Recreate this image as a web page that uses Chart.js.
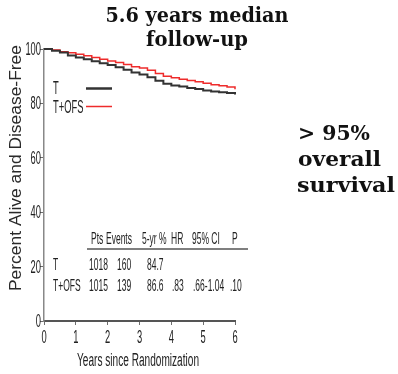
<!DOCTYPE html>
<html>
<head>
<meta charset="utf-8">
<script src="https://cdn.jsdelivr.net/npm/chart.js@4/dist/chart.umd.min.js"></script>
<style>
  html, body { margin: 0; padding: 0; background: #ffffff; }
  #wrap { width: 398px; height: 374px; }
</style>
</head>
<body>
<div id="wrap"><canvas id="km" width="398" height="374"></canvas></div>
<script>
// Kaplan-Meier disease-free survival, years since randomization
const years = [0, 0.25, 0.5, 0.75, 1, 1.25, 1.5, 1.75, 2, 2.25, 2.5, 2.75, 3,
               3.25, 3.5, 3.75, 4, 4.25, 4.5, 4.75, 5, 5.25, 5.5, 5.75, 6];
const survivalT = [100, 99.4, 98.7, 97.6, 96.9, 96.2, 95.5, 94.8, 94.1, 93.3, 92.4, 91.4, 90.6,
                   89.6, 88.3, 87.2, 86.6, 86.2, 85.7, 85.3, 84.7, 84.4, 84.1, 83.8, 83.3];
const survivalTOFS = [100, 99.6, 99.0, 98.6, 98.1, 97.5, 96.9, 96.2, 95.6, 95.0, 94.3, 93.5, 93.0,
                      92.2, 91.0, 90.0, 89.4, 88.9, 88.4, 88.0, 87.4, 86.9, 86.5, 86.0, 85.2];

const seriesNames = ['T', 'T+OFS'];
const xTicks = [0, 1, 2, 3, 4, 5, 6];
const yTicks = [0, 20, 40, 60, 80, 100];

const titleLines = ['5.6 years median', 'follow-up'];
const sideNote = ['> 95%', 'overall', 'survival'];
const xTitle = 'Years since Randomization';
const yTitle = 'Percent Alive and Disease-Free';

// summary table
const tableHeader = ['Pts', 'Events', '5-yr %', 'HR', '95% CI', 'P'];
const tableRowT = ['T', '1018', '160', '84.7'];
const tableRowTOFS = ['T+OFS', '1015', '139', '86.6', '.83', '.66-1.04', '.10'];

const BLACK = '#333333';
const RED = '#ee2b2b';
const AXIS = '#6e6e6e';

function toPoints(values) {
  return years.map((x, i) => ({ x: x, y: values[i] }));
}

// draws text squeezed horizontally by factor sx
function drawNarrow(ctx, text, x, y, font, sx, align) {
  ctx.save();
  ctx.font = font;
  ctx.textAlign = align || 'left';
  ctx.translate(x, y);
  ctx.scale(sx, 1);
  ctx.fillText(text, 0, 0);
  ctx.restore();
}

// draws text stretched/squeezed to an exact width
function drawFit(ctx, text, x, y, font, width, align) {
  ctx.save();
  ctx.font = font;
  const w = ctx.measureText(text).width;
  drawNarrow(ctx, text, x, y, font, width / w, align);
  ctx.restore();
}

const NARROW = '18px "Liberation Sans", Arial, sans-serif';
const NARROW_SX = 0.52;
const TABLE = '17px "Liberation Sans", Arial, sans-serif';
const TABLE_SX = 0.5;

const annotations = {
  id: 'annotations',
  afterDraw(chart) {
    const ctx = chart.ctx;
    const xs = chart.scales.x;
    const ys = chart.scales.y;
    ctx.save();
    ctx.fillStyle = '#222222';

    // tick labels
    ctx.textBaseline = 'middle';
    yTicks.forEach(v => {
      drawNarrow(ctx, String(v), 41, ys.getPixelForValue(v) + 1, NARROW, NARROW_SX, 'right');
    });
    ctx.textBaseline = 'alphabetic';
    xTicks.forEach(v => {
      drawNarrow(ctx, String(v), xs.getPixelForValue(v), 343, NARROW, NARROW_SX, 'center');
    });

    // axis titles
    drawFit(ctx, xTitle, 138, 366, NARROW, 122, 'center');
    ctx.save();
    ctx.translate(21, 168);
    ctx.rotate(-Math.PI / 2);
    ctx.fillStyle = '#2a2a2a';
    drawFit(ctx, yTitle, 0, 0, '16px "Liberation Sans", Arial, sans-serif', 246, 'center');
    ctx.restore();

    // legend
    ctx.fillStyle = '#222222';
    drawNarrow(ctx, seriesNames[0], 53, 94, NARROW, NARROW_SX, 'left');
    drawNarrow(ctx, seriesNames[1], 53, 113, NARROW, NARROW_SX, 'left');
    ctx.lineCap = 'butt';
    ctx.strokeStyle = BLACK;
    ctx.lineWidth = 2.5;
    ctx.beginPath(); ctx.moveTo(86, 88.5); ctx.lineTo(112, 88.5); ctx.stroke();
    ctx.strokeStyle = RED;
    ctx.lineWidth = 1.5;
    ctx.beginPath(); ctx.moveTo(86, 106.5); ctx.lineTo(112, 106.5); ctx.stroke();

    // table
    const hx = [91, 106, 142, 171, 192, 232];
    tableHeader.forEach((t, i) => drawNarrow(ctx, t, hx[i], 244, TABLE, TABLE_SX, 'left'));
    ctx.strokeStyle = '#555555';
    ctx.lineWidth = 1.5;
    ctx.beginPath(); ctx.moveTo(87, 249); ctx.lineTo(248, 249); ctx.stroke();
    const rx = [53, 89, 117, 147, 172, 193, 230];
    tableRowT.forEach((t, i) => drawNarrow(ctx, t, rx[i], 270, TABLE, TABLE_SX, 'left'));
    tableRowTOFS.forEach((t, i) => drawNarrow(ctx, t, rx[i], 291, TABLE, TABLE_SX, 'left'));

    // headline and side note
    ctx.fillStyle = '#111111';
    const SERIF = 'bold 20px "DejaVu Serif", "Liberation Serif", serif';
    drawFit(ctx, titleLines[0], 197, 22, SERIF, 183, 'center');
    drawFit(ctx, titleLines[1], 197, 46, SERIF, 102, 'center');
    const SERIF2 = 'bold 21px "DejaVu Serif", "Liberation Serif", serif';
    drawFit(ctx, sideNote[0], 298, 140, SERIF2, 72, 'left');
    drawFit(ctx, sideNote[1], 298, 166, SERIF2, 83, 'left');
    drawFit(ctx, sideNote[2], 297, 192, SERIF2, 98, 'left');

    ctx.restore();
  }
};

new Chart(document.getElementById('km'), {
  type: 'line',
  data: {
    datasets: [
      {
        label: seriesNames[0],
        data: toPoints(survivalT),
        borderColor: BLACK,
        borderWidth: 2,
        pointRadius: 0,
        stepped: 'before',
        fill: false,
        clip: false
      },
      {
        label: seriesNames[1],
        data: toPoints(survivalTOFS),
        borderColor: RED,
        borderWidth: 1.5,
        pointRadius: 0,
        stepped: 'before',
        fill: false,
        clip: false
      }
    ]
  },
  options: {
    responsive: false,
    animation: false,
    devicePixelRatio: 1,
    layout: { padding: { left: 40, right: 163, top: 49, bottom: 49 } },
    plugins: {
      legend: { display: false },
      title: { display: false },
      tooltip: { enabled: false }
    },
    scales: {
      x: {
        type: 'linear',
        min: 0,
        max: 6,
        ticks: { stepSize: 1, display: false },
        grid: { display: true, drawOnChartArea: false, drawTicks: true, tickLength: 4, color: AXIS, lineWidth: 1 },
        border: { display: true, color: '#555555', width: 2 },
        afterFit: s => { s.height = 4; }
      },
      y: {
        type: 'linear',
        min: 0,
        max: 100,
        ticks: { stepSize: 20, display: false },
        grid: { display: true, drawOnChartArea: false, drawTicks: true, tickLength: 4, color: AXIS, lineWidth: 1 },
        border: { display: true, color: '#888888', width: 1.5 },
        afterFit: s => { s.width = 4; }
      }
    }
  },
  plugins: [annotations]
});
</script>
</body>
</html>
